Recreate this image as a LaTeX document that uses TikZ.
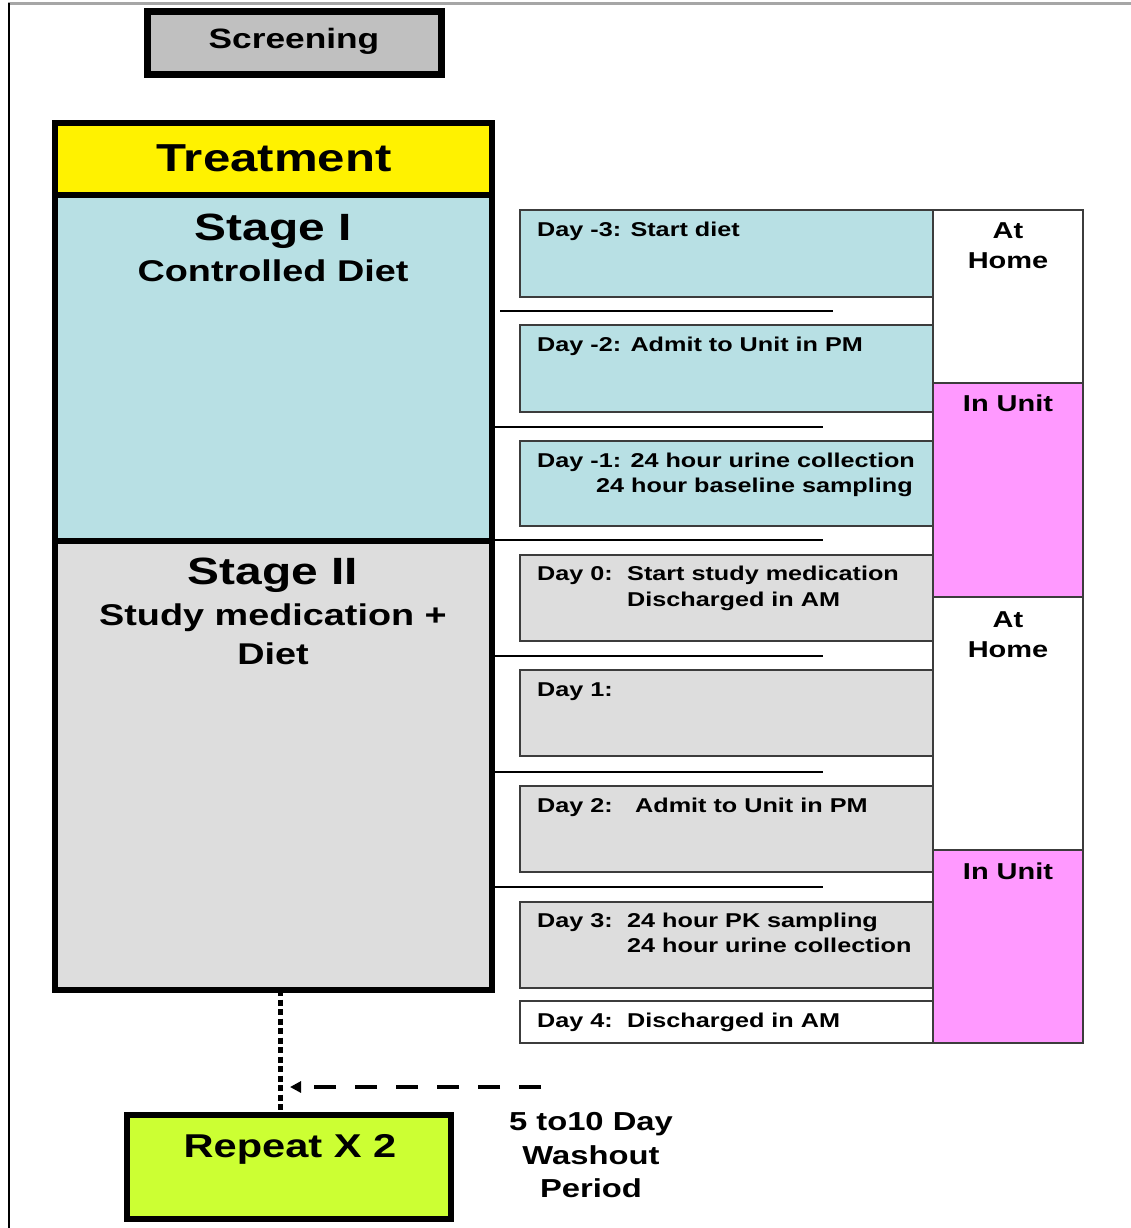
\documentclass[tikz,border=0pt]{standalone}
\usepackage{fontspec}
\setmainfont{Liberation Sans}[FakeStretch=1.26]
\usetikzlibrary{arrows.meta}
\definecolor{stageblue}{RGB}{184,224,228}
\definecolor{stagegray}{RGB}{221,221,221}
\definecolor{screengray}{RGB}{192,192,192}
\definecolor{unitpink}{RGB}{255,153,255}
\definecolor{repgreen}{RGB}{204,255,51}
\definecolor{boxline}{RGB}{60,60,60}
\tikzset{
  bigbox/.style={rectangle, draw=black, line width=6pt, inner sep=0pt, outer sep=0pt, anchor=north west},
  dbox/.style={rectangle, draw=boxline, line width=2pt, inner sep=0pt, outer sep=0pt, anchor=north west, minimum width=413pt},
  cbox/.style={rectangle, draw=boxline, line width=2pt, inner sep=0pt, outer sep=0pt, anchor=north west, minimum width=150pt},
  dtxt/.style={anchor=base west, inner sep=0pt, font=\bfseries\fontsize{20}{25}\selectfont},
  ctxt/.style={anchor=base, inner sep=0pt, font=\bfseries\fontsize{23}{30}\selectfont},
  sepline/.style={line width=2pt, black},
  dotline/.style={line width=5pt, dash pattern=on 6pt off 3.5pt},
  dasharrow/.style={line width=3.5pt, dash pattern=on 22pt off 19pt, -{Triangle[length=11pt,width=11pt]}, shorten >=10pt},
}
\begin{document}
\begin{tikzpicture}[x=1pt,y=-1pt]
\useasboundingbox (0,0) rectangle (1131,1228);
% frame
\draw[line width=3pt, gray!70] (8,4) -- (1131,4);
\draw[line width=2pt, black] (9,3) -- (9,1228);
% screening
\node[bigbox, line width=7pt, fill=screengray, minimum width=294pt, minimum height=63pt] (scr) at (147,12) {};
\node[anchor=base, inner sep=0pt, font=\bfseries\fontsize{28}{34}\selectfont] (scrt) at (294,49) {Screening};
% treatment column
\node[bigbox, fill=yellow, minimum width=437pt, minimum height=72pt] (treat) at (55,123) {};
\node[bigbox, fill=stageblue, minimum width=437pt, minimum height=346pt] (s1) at (55,195) {};
\node[bigbox, fill=stagegray, minimum width=437pt, minimum height=449pt] (s2) at (55,541) {};
\node[anchor=base, inner sep=0pt, font=\bfseries\fontsize{39}{44}\selectfont] (treatt) at (274,171) {Treatment};
\node[anchor=base, inner sep=0pt, font=\bfseries\fontsize{38}{44}\selectfont] (s1a) at (273,240) {Stage I};
\node[anchor=base, inner sep=0pt, font=\bfseries\fontsize{30}{39}\selectfont] (s1b) at (273,281) {Controlled Diet};
\node[anchor=base, inner sep=0pt, font=\bfseries\fontsize{38}{44}\selectfont] (s2a) at (273,584) {Stage II};
\node[anchor=base, inner sep=0pt, font=\bfseries\fontsize{30}{39}\selectfont] (s2b) at (273,625) {Study medication +};
\node[anchor=base, inner sep=0pt, font=\bfseries\fontsize{30}{39}\selectfont] (s2c) at (273,664) {Diet};
% separator lines
\draw[sepline] (500,311) -- (833,311);
\draw[sepline] (492,427) -- (823,427);
\draw[sepline] (492,540) -- (823,540);
\draw[sepline] (492,656) -- (823,656);
\draw[sepline] (492,772) -- (823,772);
\draw[sepline] (492,887) -- (823,887);
% day boxes
\node[dbox, fill=stageblue, minimum height=87pt] (dm3) at (520,210) {};
\node[dbox, fill=stageblue, minimum height=87pt] (dm2) at (520,325) {};
\node[dbox, fill=stageblue, minimum height=85pt] (dm1) at (520,441) {};
\node[dbox, fill=stagegray, minimum height=86pt] (d0) at (520,555) {};
\node[dbox, fill=stagegray, minimum height=86pt] (d1) at (520,670) {};
\node[dbox, fill=stagegray, minimum height=86pt] (d2) at (520,786) {};
\node[dbox, fill=stagegray, minimum height=86pt] (d3) at (520,902) {};
\node[dbox, fill=white, minimum height=42pt] (d4) at (520,1001) {};
% day texts
\node[dtxt] (tm3) at (537,236) {Day -3: Start diet};
\node[dtxt] (tm2) at (537,351) {Day -2: Admit to Unit in PM};
\node[dtxt] (tm1a) at (537,467) {Day -1: 24 hour urine collection};
\node[dtxt] (tm1b) at (596,492) {24 hour baseline sampling};
\node[dtxt] (t0a) at (537,580) {Day 0:};
\node[dtxt] (t0b) at (627,580) {Start study medication};
\node[dtxt] (t0c) at (627,606) {Discharged in AM};
\node[dtxt] (t1) at (537,696) {Day 1:};
\node[dtxt] (t2a) at (537,812) {Day 2:};
\node[dtxt] (t2b) at (635,812) {Admit to Unit in PM};
\node[dtxt] (t3a) at (537,927) {Day 3:};
\node[dtxt] (t3b) at (627,927) {24 hour PK sampling};
\node[dtxt] (t3c) at (627,952) {24 hour urine collection};
\node[dtxt] (t4a) at (537,1027) {Day 4:};
\node[dtxt] (t4b) at (627,1027) {Discharged in AM};
% location column
\node[cbox, fill=white, minimum height=173pt] (h1) at (933,210) {};
\node[cbox, fill=unitpink, minimum height=214pt] (u1) at (933,383) {};
\node[cbox, fill=white, minimum height=253pt] (h2) at (933,597) {};
\node[cbox, fill=unitpink, minimum height=193pt] (u2) at (933,850) {};
\node[ctxt] (h1a) at (1008,238) {At};
\node[ctxt] (h1b) at (1008,268) {Home};
\node[ctxt] (u1t) at (1008,411) {In Unit};
\node[ctxt] (h2a) at (1008,627) {At};
\node[ctxt] (h2b) at (1008,657) {Home};
\node[ctxt] (u2t) at (1008,879) {In Unit};
% repeat
\node[bigbox, fill=repgreen, minimum width=324pt, minimum height=104pt] (rep) at (127,1115) {};
\node[anchor=base, inner sep=0pt, font=\bfseries\fontsize{33}{40}\selectfont] (rept) at (290,1157) {Repeat X 2};
\node[anchor=base, inner sep=0pt, font=\bfseries\fontsize{26}{33}\selectfont] (w1) at (591,1130) {5 to10 Day};
\node[anchor=base, inner sep=0pt, font=\bfseries\fontsize{26}{33}\selectfont] (w2) at (591,1164) {Washout};
\node[anchor=base, inner sep=0pt, font=\bfseries\fontsize{26}{33}\selectfont] (w3) at (591,1197) {Period};
% connectors
\coordinate (dotx) at (280,0);
\draw[dotline] (s2.south -| dotx) -- (rep.north -| dotx);
\coordinate (wstart) at (541,1087);
\draw[dasharrow] (wstart) -- (wstart -| dotx);
\end{tikzpicture}
\end{document}
